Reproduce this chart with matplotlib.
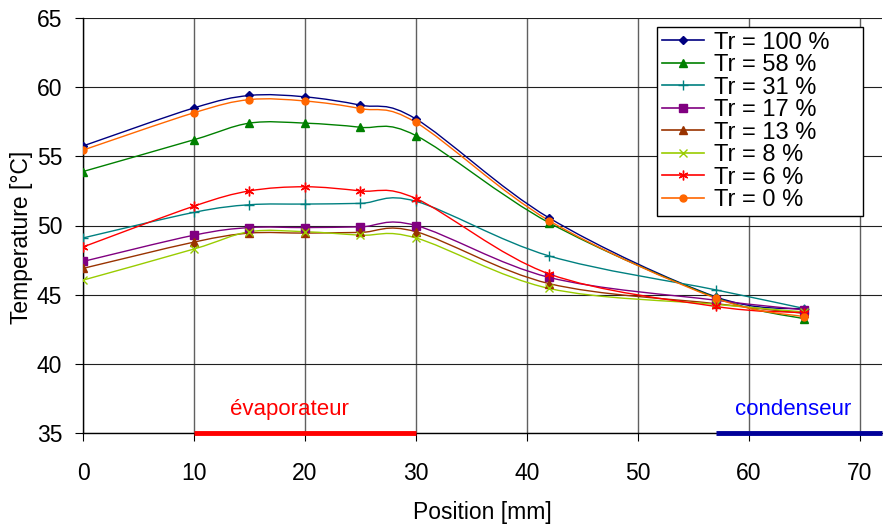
import matplotlib
matplotlib.use("Agg")
import matplotlib.pyplot as plt
from matplotlib.path import Path
from matplotlib.patches import PathPatch
from matplotlib.lines import Line2D
import numpy as np

plt.rcParams['font.family'] = ['Liberation Sans', 'DejaVu Sans']

positions = [0, 10, 15, 20, 25, 30, 42, 57, 65]

tr100 = [55.75, 58.5, 59.4, 59.3, 58.7, 57.7, 50.55, 44.85, 43.95]
tr58 = [53.9, 56.2, 57.4, 57.4, 57.1, 56.5, 50.2, 44.8, 43.25]
tr31 = [49.1, 50.95, 51.5, 51.55, 51.6, 51.75, 47.8, 45.35, 44.0]
tr17 = [47.4, 49.3, 49.85, 49.85, 49.9, 50.0, 46.25, 44.6, 43.9]
tr13 = [46.9, 48.8, 49.45, 49.45, 49.5, 49.55, 45.8, 44.35, 43.65]
tr8 = [46.05, 48.3, 49.55, 49.55, 49.3, 49.1, 45.45, 44.3, 43.75]
tr6 = [48.45, 51.4, 52.5, 52.8, 52.5, 51.95, 46.5, 44.15, 43.7]
tr0 = [55.45, 58.15, 59.1, 59.0, 58.45, 57.45, 50.35, 44.75, 43.4]

labels = ["Tr = 100 %", "Tr = 58 %", "Tr = 31 %", "Tr = 17 %",
          "Tr = 13 %", "Tr = 8 %", "Tr = 6 %", "Tr = 0 %"]
series = [tr100, tr58, tr31, tr17, tr13, tr8, tr6, tr0]
colors = ["#000080", "#008000", "#008080", "#800080",
          "#993300", "#99CC00", "#FF0000", "#FF6600"]
markers = ["D", "^", "+", "s", "^", "x", (6, 2, 0), "o"]
msizes = [4.5, 5.5, 7, 5.5, 5.5, 6, 7, 5]

zone_labels = ["évaporateur", "condenseur"]
zone_ranges = [(10, 30), (57, 72)]
zone_text_x = [18.6, 64.0]
zone_colors = ["#FF0000", "#000099"]
zone_text_colors = ["#FF0000", "#0000FF"]

fig = plt.figure(figsize=(8.83, 5.28), dpi=100)
ax = fig.add_axes([83 / 883, 1 - 433 / 528, 799 / 883, 415 / 528])
ax.set_xlim(0, 72)
ax.set_ylim(35, 65)


def smooth_path(xs, ys):
    pts = np.column_stack([xs, ys]).astype(float)
    n = len(pts)
    verts = [pts[0]]
    codes = [Path.MOVETO]
    for i in range(n - 1):
        p0 = pts[i - 1] if i > 0 else pts[i]
        p1 = pts[i]
        p2 = pts[i + 1]
        p3 = pts[i + 2] if i + 2 < n else pts[i + 1]
        c1 = p1 + (p2 - p0) / 6.0
        c2 = p2 - (p3 - p1) / 6.0
        verts += [c1, c2, p2]
        codes += [Path.CURVE4] * 3
    return Path(verts, codes)


handles = []
for ys, c, m, ms, lab in zip(series, colors, markers, msizes, labels):
    patch = PathPatch(smooth_path(positions, ys), facecolor="none",
                      edgecolor=c, lw=1.0, zorder=3)
    ax.add_patch(patch)
    ax.plot(positions, ys, ls="none", marker=m, color=c, ms=ms,
            mew=1.0, zorder=4)
    handles.append(Line2D([], [], color=c, lw=1.2, marker=m, ms=ms, mew=1.0))

for (x0, x1), c in zip(zone_ranges, zone_colors):
    ax.plot([x0, x1], [35, 35], color=c, lw=3.5, zorder=5, clip_on=False,
            solid_capstyle="butt")
for lab, xc, c in zip(zone_labels, zone_text_x, zone_text_colors):
    ax.text(xc, 36.7, lab, color=c, fontsize=16, ha="center", va="center")

ax.set_xticks(np.arange(0, 71, 10))
ax.set_yticks(np.arange(35, 66, 5))
ax.grid(axis="x", color="#606060", lw=1.0)
ax.grid(axis="y", color="#202020", lw=0.8)
ax.set_axisbelow(True)
for s in ["top", "right"]:
    ax.spines[s].set_visible(False)
ax.spines["left"].set_linewidth(1.0)
ax.spines["bottom"].set_linewidth(1.0)
ax.tick_params(axis="x", direction="out", length=6, pad=15, labelsize=16.5)
ax.tick_params(axis="y", direction="out", length=6, pad=9, labelsize=16.5)

ax.set_xlabel("Position [mm]", fontsize=16.5)
ax.set_ylabel("Temperature [°C]", fontsize=16.5)
ax.xaxis.set_label_coords(0.5, -(512 - 433) / 415, transform=ax.transAxes)
ax.yaxis.set_label_coords(-(83 - 22) / 799, (433 - 237) / 415)
ax.xaxis.label.set_va("center")
ax.yaxis.label.set_va("center")

leg = fig.legend(handles, labels, loc="upper left",
                 bbox_to_anchor=(657 / 883, 1 - 213 / 528, 206 / 883, 186 / 528),
                 mode="expand",
                 fontsize=17, frameon=True, fancybox=False, shadow=False,
                 borderpad=0.2, labelspacing=0.02, handlelength=1.8,
                 handletextpad=0.4, borderaxespad=0)
leg.get_frame().set_edgecolor("black")
leg.get_frame().set_linewidth(1.0)
leg.get_frame().set_alpha(1)

fig.savefig("out.png", dpi=100)
